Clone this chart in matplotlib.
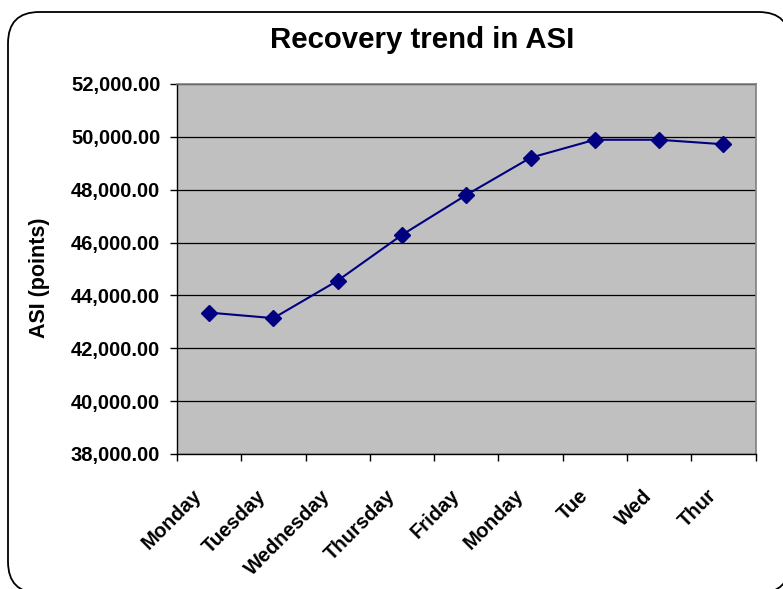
import matplotlib
matplotlib.use("Agg")
import matplotlib.pyplot as plt
import matplotlib.transforms as mtransforms
from matplotlib.patches import FancyBboxPatch

categories = ["Monday", "Tuesday", "Wednesday", "Thursday", "Friday",
              "Monday", "Tue", "Wed", "Thur"]
asi_values = [43350, 43140, 44560, 46290, 47800, 49210, 49890, 49890, 49720]
y_ticks = [38000, 40000, 42000, 44000, 46000, 48000, 50000, 52000]

plt.rcParams['font.family'] = ['Liberation Sans', 'DejaVu Sans']

W, H = 783, 589
fig = plt.figure(figsize=(W / 100, H / 100), dpi=100)

# rounded chart border
box = FancyBboxPatch((8 / W, -4 / H), 782 / W, 581 / H,
                     boxstyle="round,pad=0,rounding_size=0.04",
                     transform=fig.transFigure, facecolor="white",
                     edgecolor="black", linewidth=1.3, mutation_aspect=W / H,
                     zorder=-5)
fig.patches.append(box)

ax = fig.add_axes([177 / W, 1 - 454 / H, (755.5 - 177) / W, (454 - 84) / H])
ax.set_zorder(2)
ax.set_facecolor("#C0C0C0")

x = list(range(len(categories)))
ax.plot(x, asi_values, color="#000080", linewidth=1.5, marker="D",
        markersize=8, markerfacecolor="#000080", markeredgecolor="#000080",
        zorder=3)

ax.set_xlim(-0.5, len(categories) - 0.5)
ax.set_ylim(38000, 52000)
ax.set_yticks(y_ticks)
ax.set_yticklabels([f"{v:,.2f}" for v in y_ticks], fontsize=14.5,
                   fontweight="bold")
ax.yaxis.grid(True, color="black", linewidth=0.9)
ax.set_axisbelow(True)

ax.set_xticks([i - 0.5 for i in range(len(categories) + 1)])
ax.set_xticklabels([])
ax.set_xticks(x, minor=True)
ax.set_xticklabels(categories, minor=True, rotation=45, ha="right",
                   va="center", rotation_mode="anchor", fontsize=14.5,
                   fontweight="bold")
ax.tick_params(axis="x", which="minor", length=0, pad=28)
ax.tick_params(axis="x", which="major", length=5, width=1, color="black")
ax.tick_params(axis="y", length=5, width=1, pad=7)

offset = mtransforms.ScaledTranslation(-10 / 100, 0, fig.dpi_scale_trans)
for lbl in ax.xaxis.get_minorticklabels():
    lbl.set_transform(lbl.get_transform() + offset)

for s in ["top", "right"]:
    ax.spines[s].set_color("#808080")
    ax.spines[s].set_linewidth(1.2)
for s in ["left", "bottom"]:
    ax.spines[s].set_color("black")
    ax.spines[s].set_linewidth(1.0)

ax.set_ylabel("ASI (points)", fontsize=15.5, fontweight="bold", va="center")
ax.yaxis.set_label_coords((40 - 177) / 578.5, (454 - 278) / 370)
fig.text(422 / W, 1 - 40 / H, "Recovery trend in ASI", fontsize=21.2,
         fontweight="bold", ha="center", va="center")

fig.savefig("out.png", dpi=100)
